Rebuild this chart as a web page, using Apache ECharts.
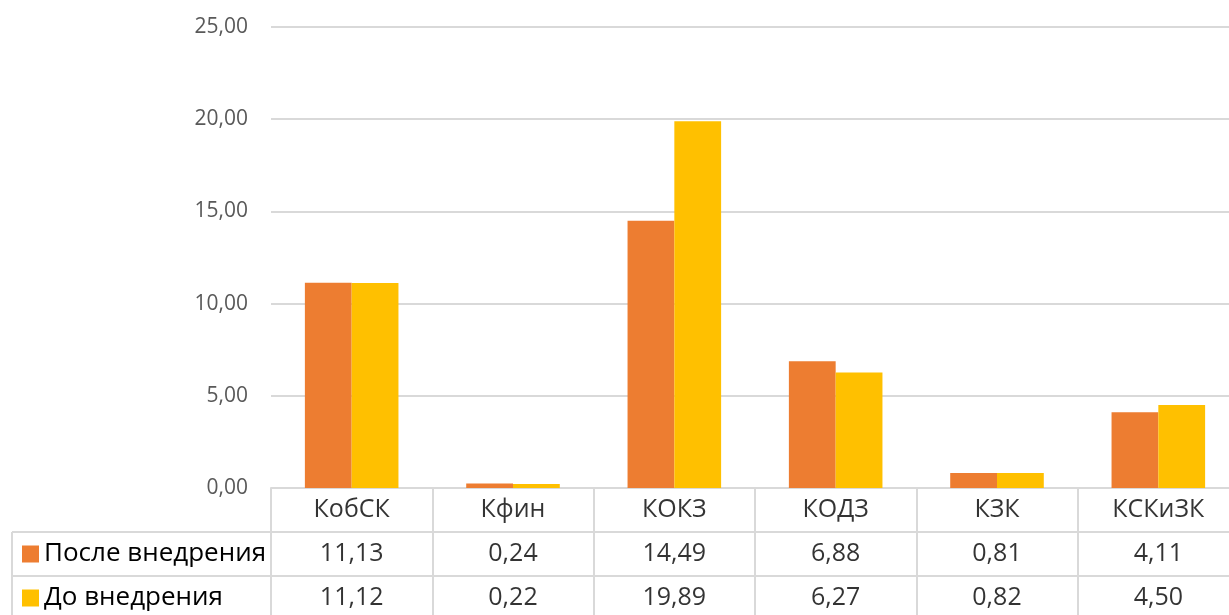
<!DOCTYPE html>
<html>
<head>
<meta charset="utf-8">
<script src="https://cdn.jsdelivr.net/npm/echarts@6/dist/echarts.min.js"></script>
<style>
  html, body { margin: 0; padding: 0; background: #fff; }
  #chart { width: 1229px; height: 615px; }
</style>
</head>
<body>
<div id="chart"></div>
<script>
// Coefficients before and after the change, with a data table under the bars
const categories = ['КобСК', 'Кфин', 'КОКЗ', 'КОДЗ', 'КЗК', 'КСКиЗК'];
const seriesNames = ['После внедрения', 'До внедрения'];
const afterValues = [11.13, 0.24, 14.49, 6.88, 0.81, 4.11];
const beforeValues = [11.12, 0.22, 19.89, 6.27, 0.82, 4.50];
const yTicks = [0, 5, 10, 15, 20, 25];
const tableRows = ['header', 'after', 'before'];

const FONT = '"Open Sans", "Noto Sans", sans-serif';
const GRID_COLOR = '#d9d9d9';
const fmt = v => v.toFixed(2).replace('.', ',');

// Table cells: category names on the first row, values on the next two
const cellData = [];
categories.forEach((c, i) => {
  cellData.push({ name: c, value: [i, 0] });
  cellData.push({ name: fmt(afterValues[i]), value: [i, 1] });
  cellData.push({ name: fmt(beforeValues[i]), value: [i, 2] });
});

// One legend entry per table row, so each sits in its own cell
const legendFor = (name, top) => ({
  data: [name],
  orient: 'vertical',
  left: 22,
  top: top,
  padding: 0,
  itemWidth: 17,
  itemHeight: 17,
  icon: 'rect',
  selectedMode: false,
  textStyle: { fontFamily: FONT, fontSize: 26, color: '#000', lineHeight: 44 }
});

const chart = echarts.init(document.getElementById('chart'), null, { renderer: 'canvas' });

// The table runs slightly past the right and bottom edges of the page
const gridBase = { containLabel: false, outerBoundsMode: 'none' };

chart.setOption({
  animation: false,
  color: ['#ED7D31', '#FFC000'],
  legend: [legendFor(seriesNames[0], 532), legendFor(seriesNames[1], 576)],
  grid: [
    // bars
    Object.assign({ left: 271, width: 968, top: 27, height: 461 }, gridBase),
    // data table body
    Object.assign({ left: 271, width: 968, top: 488, height: 132 }, gridBase),
    // legend column of the table
    Object.assign({ left: 12, width: 259, top: 532, height: 88 }, gridBase)
  ],
  xAxis: [
    {
      type: 'category', gridIndex: 0, data: categories,
      axisLine: { show: true, lineStyle: { color: GRID_COLOR, width: 2 } },
      axisTick: { show: false },
      axisLabel: { show: false },
      splitLine: { show: false }
    },
    {
      type: 'category', gridIndex: 1, data: categories, boundaryGap: true,
      axisLine: { show: false }, axisTick: { show: false }, axisLabel: { show: false },
      splitLine: { show: true, lineStyle: { color: GRID_COLOR, width: 2 } }
    },
    {
      type: 'category', gridIndex: 2, data: [''], boundaryGap: true,
      axisLine: { show: false }, axisTick: { show: false }, axisLabel: { show: false },
      splitLine: { show: true, lineStyle: { color: GRID_COLOR, width: 2 } }
    }
  ],
  yAxis: [
    {
      type: 'value', gridIndex: 0,
      min: yTicks[0], max: yTicks[yTicks.length - 1], interval: yTicks[1] - yTicks[0],
      axisLine: { show: false }, axisTick: { show: false },
      axisLabel: {
        margin: 23, color: '#595959', fontFamily: FONT, fontSize: 21,
        formatter: v => fmt(v)
      },
      splitLine: { show: true, lineStyle: { color: GRID_COLOR, width: 2 } }
    },
    {
      type: 'category', gridIndex: 1, data: tableRows, inverse: true, boundaryGap: true,
      axisLine: { show: false }, axisTick: { show: false }, axisLabel: { show: false },
      splitLine: { show: true, lineStyle: { color: GRID_COLOR, width: 2 } }
    },
    {
      type: 'category', gridIndex: 2, data: tableRows.slice(1), inverse: true, boundaryGap: true,
      axisLine: { show: false }, axisTick: { show: false }, axisLabel: { show: false },
      splitLine: { show: true, lineStyle: { color: GRID_COLOR, width: 2 } }
    }
  ],
  series: [
    {
      name: seriesNames[0], type: 'bar', xAxisIndex: 0, yAxisIndex: 0,
      data: afterValues, barGap: '0%', barCategoryGap: '42%'
    },
    {
      name: seriesNames[1], type: 'bar', xAxisIndex: 0, yAxisIndex: 0,
      data: beforeValues, barGap: '0%', barCategoryGap: '42%'
    },
    {
      name: 'table', type: 'scatter', xAxisIndex: 1, yAxisIndex: 1,
      symbolSize: 0, silent: true,
      data: cellData,
      label: {
        show: true, position: 'inside', formatter: '{b}',
        fontFamily: FONT, fontSize: 25, color: '#000'
      }
    }
  ]
});
</script>
</body>
</html>
